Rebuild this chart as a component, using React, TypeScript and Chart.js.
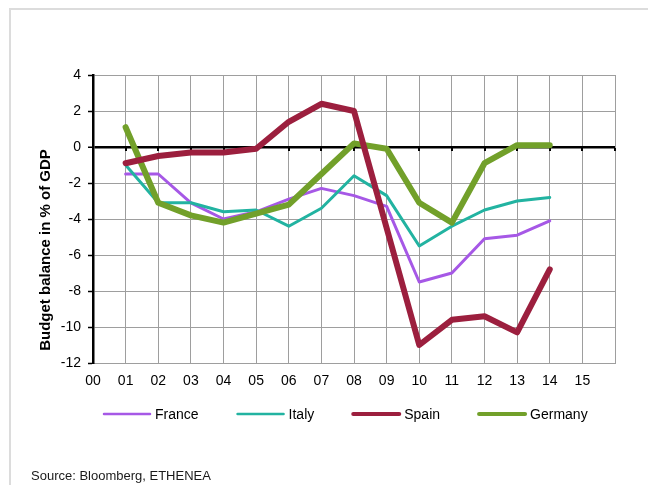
import React, { useEffect, useRef } from "react";
import { Chart, registerables } from "chart.js";

Chart.register(...registerables);

// Year labels along the bottom axis (the last gridline has no label)
const yearLabels = ["00", "01", "02", "03", "04", "05", "06", "07", "08", "09", "10", "11", "12", "13", "14", "15", ""];

// Budget balance, % of GDP
const france = [null, -1.5, -1.5, -3.1, -4.0, -3.6, -2.9, -2.3, -2.7, -3.3, -7.5, -7.0, -5.1, -4.9, -4.1, null, null];
const italy = [null, -1.0, -3.1, -3.1, -3.6, -3.5, -4.4, -3.4, -1.6, -2.7, -5.5, -4.4, -3.5, -3.0, -2.8, null, null];
const spain = [null, -0.9, -0.5, -0.3, -0.3, -0.1, 1.4, 2.4, 2.0, -4.5, -11.0, -9.6, -9.4, -10.3, -6.8, null, null];
const germany = [null, 1.1, -3.1, -3.8, -4.2, -3.7, -3.2, -1.5, 0.2, -0.1, -3.1, -4.2, -0.9, 0.1, 0.1, null, null];

const seriesNames = ["France", "Italy", "Spain", "Germany"];
const yTitle = "Budget balance in % of GDP";
const sourceNote = "Source: Bloomberg, ETHENEA";

const FONT = "'Liberation Sans', Arial, Helvetica, sans-serif";
const GRID = "#9e9e9e";

const W = 648;
const H = 485;

const decorations = {
  id: "decorations",
  beforeDraw(chart: any) {
    const { ctx } = chart;
    ctx.save();
    ctx.fillStyle = "#fff";
    ctx.fillRect(0, 0, W, H);
    // light frame along the top and left edges
    ctx.fillStyle = "#dcdcdc";
    ctx.fillRect(9, 8, W - 9, 2);
    ctx.fillRect(9, 8, 2, H - 8);
    ctx.restore();
  },
  beforeDatasetsDraw(chart: any) {
    const { ctx, scales } = chart;
    const x = scales.x;
    const y0 = scales.y.getPixelForValue(0);
    ctx.save();
    ctx.fillStyle = "#000";
    for (let i = 1; i < yearLabels.length; i++) {
      const px = x.getPixelForTick(i);
      ctx.fillRect(Math.round(px) - 1, Math.round(y0) + 1, 2, 3);
    }
    ctx.restore();
  },
  afterDraw(chart: any) {
    const { ctx } = chart;
    ctx.save();

    // rotated y-axis title
    ctx.translate(46, 250);
    ctx.rotate(-Math.PI / 2);
    ctx.font = `bold 15px ${FONT}`;
    ctx.fillStyle = "#000";
    ctx.textAlign = "center";
    ctx.textBaseline = "middle";
    ctx.fillText(yTitle, 0, 0);
    ctx.setTransform(1, 0, 0, 1, 0, 0);

    // legend row
    const ly = 414;
    let lx = 102;
    ctx.font = `14px ${FONT}`;
    ctx.textAlign = "left";
    ctx.textBaseline = "middle";
    chart.data.datasets.forEach((ds: any) => {
      ctx.strokeStyle = ds.borderColor;
      ctx.lineWidth = ds.borderWidth > 4 ? 4 : 2.5;
      ctx.lineCap = "round";
      ctx.beginPath();
      ctx.moveTo(lx + 2, ly);
      ctx.lineTo(lx + 48, ly);
      ctx.stroke();
      ctx.fillStyle = "#000";
      ctx.fillText(ds.label, lx + 53, ly + 1);
      lx += 53 + ctx.measureText(ds.label).width + 37;
    });

    // source note
    ctx.font = `13px ${FONT}`;
    ctx.fillStyle = "#1a1a1a";
    ctx.textBaseline = "middle";
    ctx.fillText(sourceNote, 31, 476);
    ctx.restore();
  },
};

export default function App() {
  const ref = useRef<HTMLCanvasElement | null>(null);

  useEffect(() => {
    if (!ref.current) return;
    const chart = new Chart(ref.current, {
      type: "line",
      data: {
        labels: yearLabels,
        datasets: [
          { label: seriesNames[0], data: france, borderColor: "#a658e6", borderWidth: 3, order: 3 },
          { label: seriesNames[1], data: italy, borderColor: "#22b3a1", borderWidth: 3, order: 2 },
          { label: seriesNames[2], data: spain, borderColor: "#9c1f3e", borderWidth: 6, order: 0 },
          { label: seriesNames[3], data: germany, borderColor: "#72a02a", borderWidth: 6, order: 1 },
        ].map((d) => ({
          ...d,
          backgroundColor: d.borderColor,
          pointRadius: 0,
          tension: 0,
          fill: false,
          borderJoinStyle: "round" as const,
          borderCapStyle: "round" as const,
          spanGaps: false,
        })),
      },
      options: {
        responsive: false,
        animation: false,
        devicePixelRatio: 1,
        layout: { padding: { top: 75, right: 33, left: 0, bottom: 0 } },
        plugins: {
          legend: { display: false },
          tooltip: { enabled: false },
        },
        scales: {
          x: {
            type: "category",
            offset: false,
            afterFit: (s: any) => {
              s.height = H - 363;
            },
            grid: {
              color: (c: any) => (c.index === 0 ? "rgba(0,0,0,0)" : GRID),
              lineWidth: 1,
              drawTicks: false,
            },
            border: { display: true, color: GRID, width: 1 },
            ticks: {
              autoSkip: false,
              maxRotation: 0,
              padding: 10,
              color: "#000",
              font: { family: FONT, size: 14 },
            },
          },
          y: {
            min: -12,
            max: 4,
            afterFit: (s: any) => {
              s.width = 93;
            },
            grid: {
              color: (c: any) => (c.tick && c.tick.value === 0 ? "#000" : GRID),
              lineWidth: (c: any) => (c.tick && c.tick.value === 0 ? 2.5 : 1),
              drawTicks: true,
              tickLength: 5,
              tickColor: "#000",
              tickWidth: 1.5,
            },
            border: { display: true, color: "#000", width: 2.5 },
            ticks: {
              stepSize: 2,
              padding: 7,
              color: "#000",
              font: { family: FONT, size: 14 },
            },
          },
        },
      },
      plugins: [decorations],
    });
    return () => chart.destroy();
  }, []);

  return (
    <div style={{ position: "fixed", left: 0, top: 0, width: W, height: H, background: "#fff" }}>
      <canvas ref={ref} width={W} height={H} style={{ display: "block", width: W, height: H }} />
    </div>
  );
}
